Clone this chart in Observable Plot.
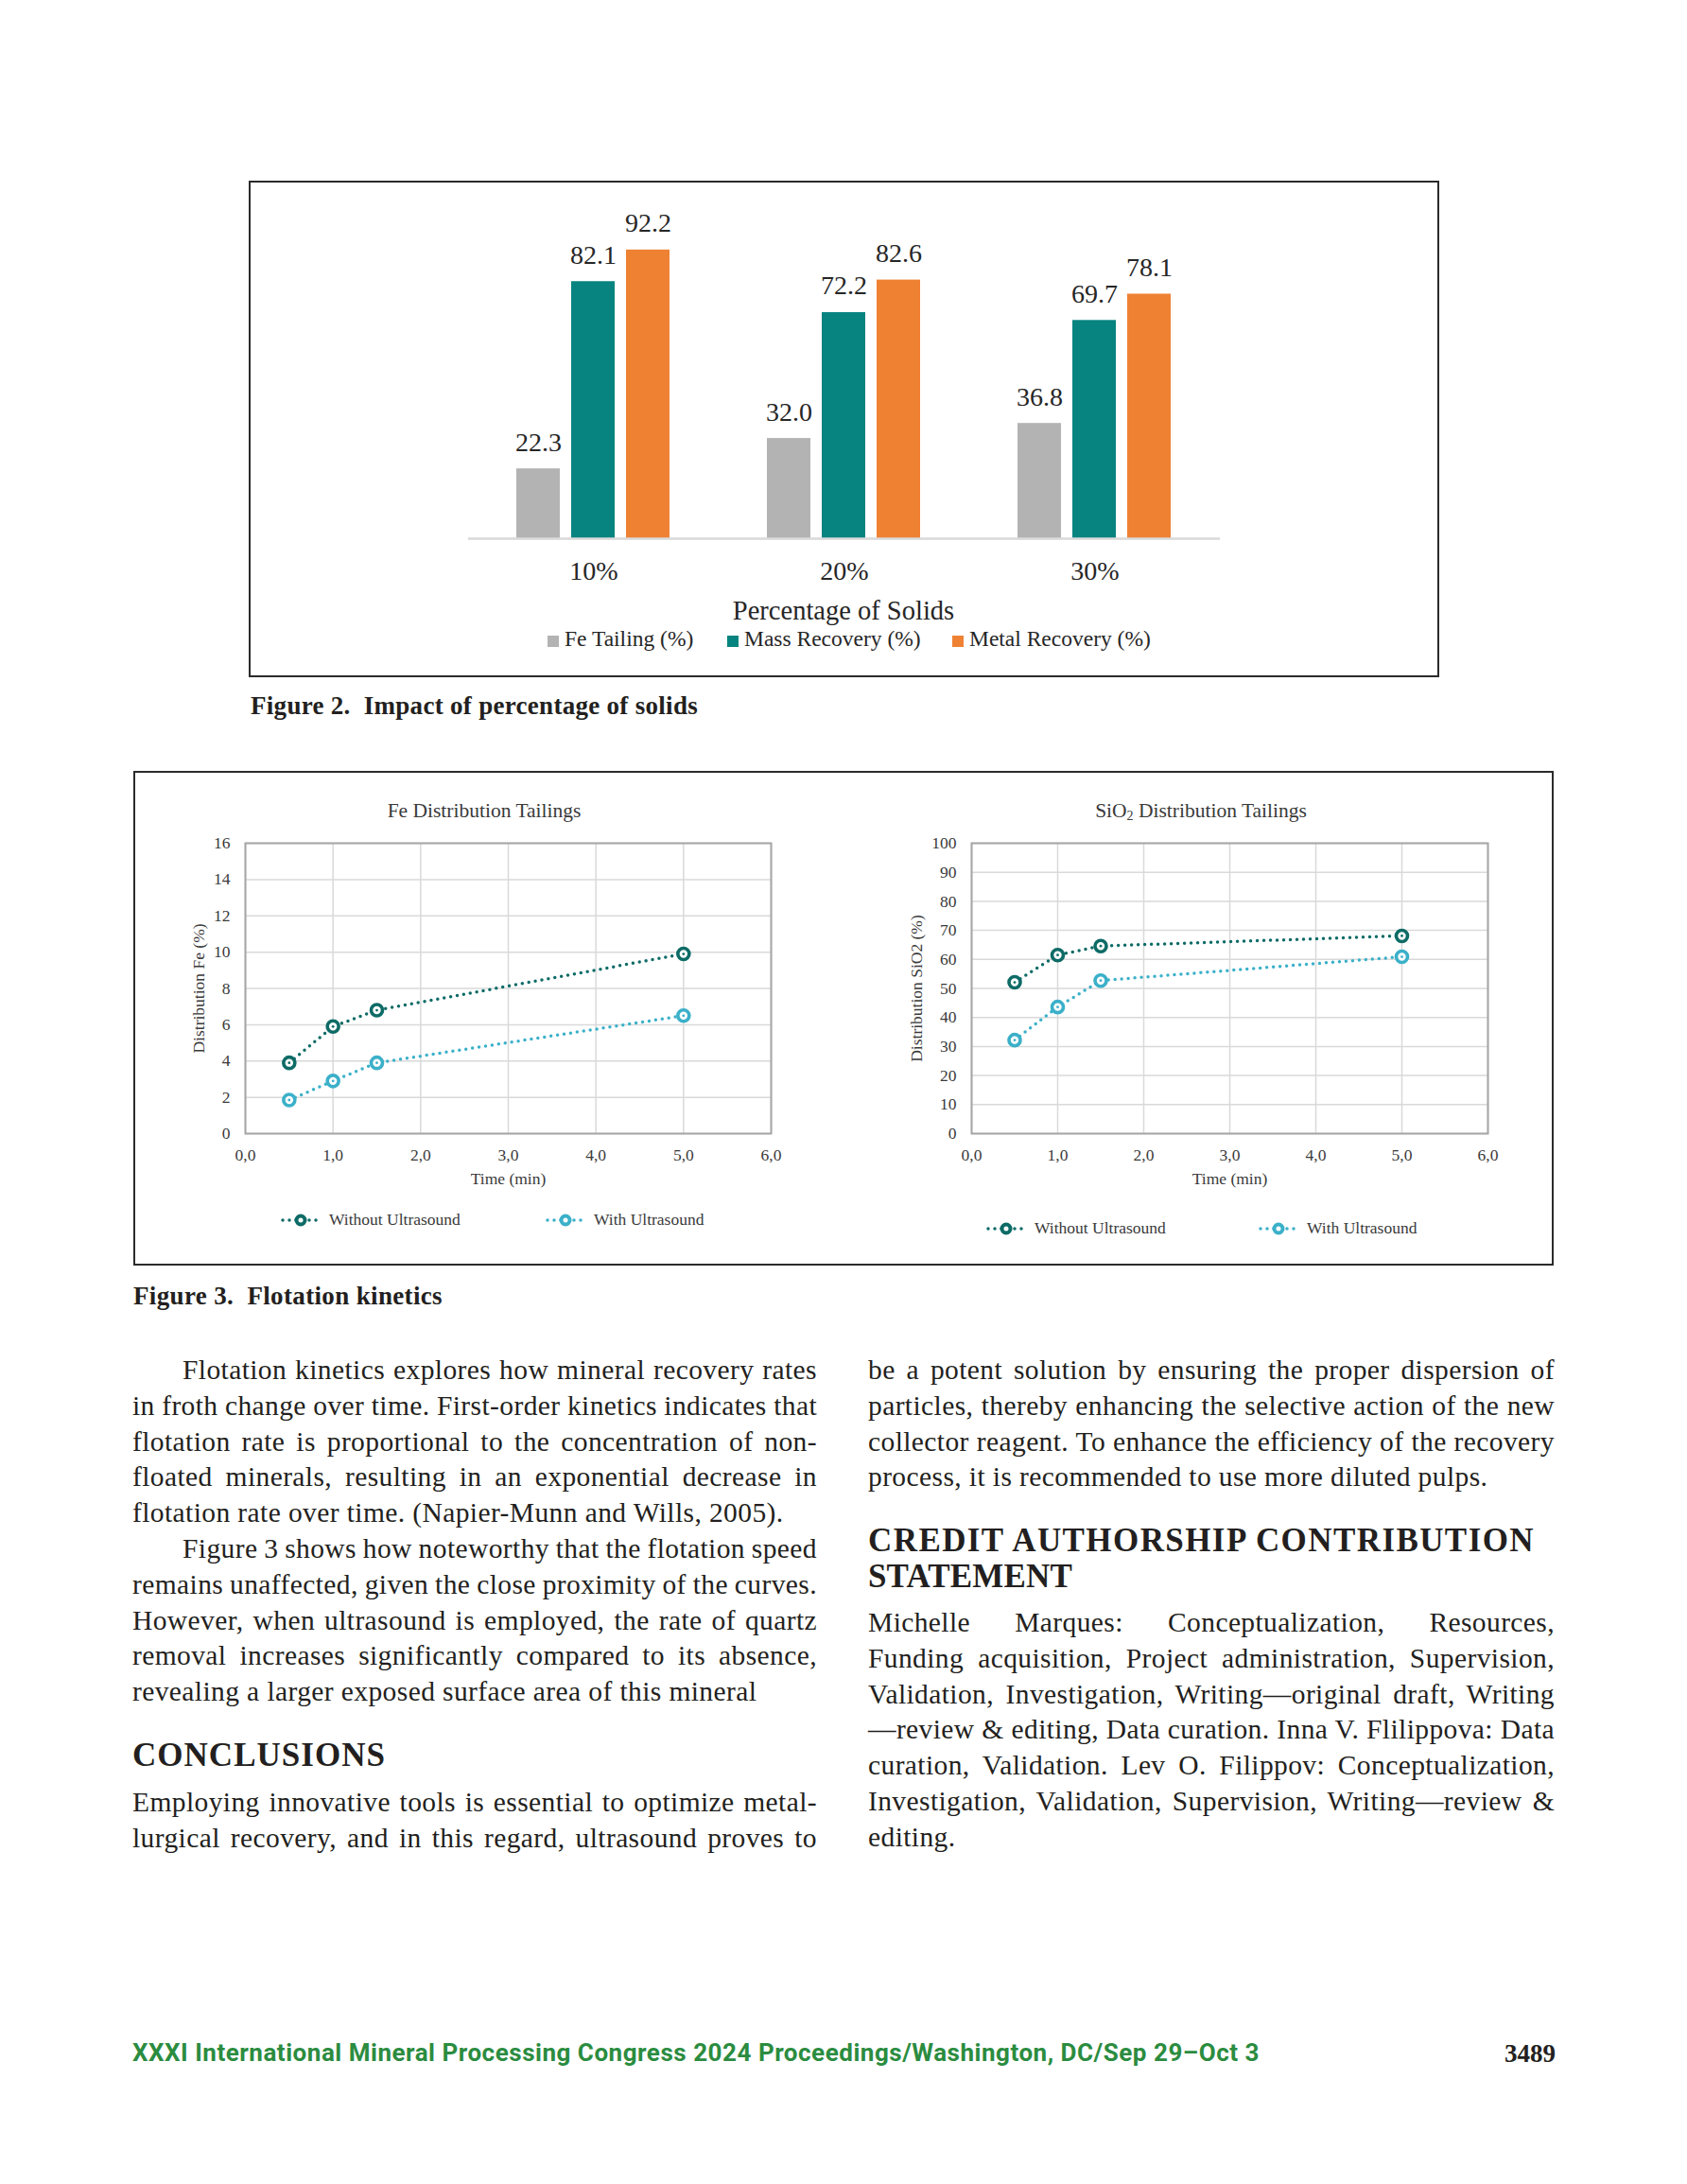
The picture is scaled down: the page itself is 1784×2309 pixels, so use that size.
<!DOCTYPE html>
<html><head><meta charset="utf-8">
<script src="https://cdn.jsdelivr.net/npm/d3@7"></script>
<script src="https://cdn.jsdelivr.net/npm/@observablehq/plot@0.6"></script>
<style>
html,body{margin:0;padding:0;background:#fff;}
#page{position:relative;width:1784px;height:2309px;overflow:hidden;font-family:"Liberation Serif",serif;color:#231f20;}
.abs{position:absolute;white-space:nowrap;display:inline-block;}
.box{position:absolute;border:2px solid #2b2b2b;box-sizing:border-box;}
</style></head><body><div id="page"></div>
<script>
// ---------- DATA ----------
const solidCats = ["10%", "20%", "30%"];
const solidSeries = ["Fe Tailing (%)", "Mass Recovery (%)", "Metal Recovery (%)"];
const feTailing = [22.3, 32.0, 36.8];
const massRecovery = [82.1, 72.2, 69.7];
const metalRecovery = [92.2, 82.6, 78.1];
const seriesColors = ["#b3b3b4", "#088480", "#ef8133"];

const timeMin = [0.5, 1.0, 1.5, 5.0];
const timeTicks = [0, 1, 2, 3, 4, 5, 6];
const lineSeries = ["Without Ultrasound", "With Ultrasound"];
const lineColors = ["#0d6b66", "#3bb0c9"];
const feWithout = [3.9, 5.9, 6.8, 9.9];
const feWith = [1.85, 2.9, 3.9, 6.5];
const feTicks = [0, 2, 4, 6, 8, 10, 12, 14, 16];
const sioWithout = [52.1, 61.5, 64.6, 68.1];
const sioWith = [32.2, 43.6, 52.7, 60.9];
const sioTicks = [0, 10, 20, 30, 40, 50, 60, 70, 80, 90, 100];

const page = document.getElementById("page");

function place(html, o) {
  const el = document.createElement("div");
  el.className = "abs";
  el.innerHTML = html;
  const size = o.size || 26;
  const lh = size * 1.15;
  el.style.fontSize = size + "px";
  el.style.lineHeight = lh + "px";
  el.style.fontFamily = o.family || '"Liberation Serif", serif';
  el.style.fontWeight = o.weight || 400;
  el.style.color = o.color || "#231f20";
  el.style.top = (o.y - lh / 2) + "px";
  if (o.letterSpacing) el.style.letterSpacing = o.letterSpacing + "px";
  page.appendChild(el);
  if (o.fitLetters) {
    const w = el.getBoundingClientRect().width;
    const n = el.textContent.length;
    el.style.letterSpacing = ((o.letterSpacing || 0) + (o.fitLetters - w) / n) + "px";
  }
  if (o.fitWords) {
    const w = el.getBoundingClientRect().width;
    const n = (el.textContent.match(/ /g) || []).length;
    if (n > 0) el.style.wordSpacing = ((o.fitWords - w) / n) + "px";
  }
  const w = el.getBoundingClientRect().width;
  let left = o.x;
  if (o.anchor === "middle") left = o.x - w / 2;
  if (o.anchor === "end") left = o.x - w;
  el.style.left = left + "px";
  return el;
}
function box(x0, y0, x1, y1) {
  const b = document.createElement("div");
  b.className = "box";
  Object.assign(b.style, {left: x0 + "px", top: y0 + "px", width: (x1 - x0) + "px", height: (y1 - y0) + "px"});
  page.appendChild(b);
}
function put(svg, left, top) {
  svg.style.position = "absolute";
  svg.style.left = left + "px";
  svg.style.top = top + "px";
  page.appendChild(svg);
}

// ---------- FIGURE 2 ----------
box(263, 191, 1522, 716);
const barData = solidCats.flatMap((c, i) => solidSeries.map((s, j) => ({
  cat: c, series: s, value: [feTailing, massRecovery, metalRecovery][j][i]
})));
const bar = Plot.plot({
  width: 1258, height: 437,
  marginLeft: 230, marginRight: 231, marginTop: 46, marginBottom: 60,
  fx: {domain: solidCats, padding: 0, label: null},
  x: {domain: solidSeries, axis: null, paddingInner: 0.2, paddingOuter: 0.86},
  y: {domain: [0, 100], axis: null},
  color: {domain: solidSeries, range: seriesColors},
  style: {fontFamily: '"Liberation Serif", serif', background: "transparent", color: "#262626"},
  marks: [
    Plot.barY(barData, {fx: "cat", x: "series", y: "value", fill: "series"}),
    Plot.ruleY([0], {stroke: "#d9d9d9", strokeWidth: 2.5}),
    Plot.text(barData, {fx: "cat", x: "series", y: "value", text: d => d.value.toFixed(1), dy: -28, fontSize: 28, fill: "#262626"}),
    Plot.axisFx({anchor: "bottom", tickSize: 0, tickPadding: 24, fontSize: 28, label: null, fill: "#262626"})
  ]
});
put(bar, 264, 192);
place("Percentage of Solids", {x: 892, y: 646, size: 28.5, anchor: "middle", color: "#262626"});
const legX = [585, 775, 1013];
solidSeries.forEach((s, i) => {
  place(`<span style="display:inline-block;width:12px;height:12px;background:${seriesColors[i]};vertical-align:-1px"></span>`,
    {x: legX[i] - 6, y: 676, size: 23});
  place(s, {x: legX[i] + 12, y: 676, size: 23.5, color: "#262626"});
});
place("Figure 2.&nbsp; Impact of percentage of solids", {x: 265, y: 747, size: 27, weight: 700, fitLetters: 473});

// ---------- FIGURE 3 ----------
box(141, 815, 1643, 1338);
function lineChart({without, withU, ticks, yLabel, marginLeft, marginRight, yLabelOffset}) {
  const data = [
    ...timeMin.map((t, i) => ({t, v: without[i], s: lineSeries[0]})),
    ...timeMin.map((t, i) => ({t, v: withU[i], s: lineSeries[1]}))
  ];
  const yMax = ticks[ticks.length - 1];
  return Plot.plot({
    width: 700, height: 400, marginLeft, marginRight, marginTop: 21, marginBottom: 72,
    x: {domain: [0, 6]},
    y: {domain: [0, yMax]},
    color: {domain: lineSeries, range: lineColors},
    style: {fontFamily: '"Liberation Serif", serif', fontSize: "17px", background: "transparent", color: "#3a3a3a"},
    marks: [
      Plot.gridX(timeTicks, {stroke: "#d9d9d9", strokeOpacity: 1, strokeWidth: 1.5}),
      Plot.gridY(ticks, {stroke: "#d9d9d9", strokeOpacity: 1, strokeWidth: 1.5}),
      Plot.frame({stroke: "#a6a6a6", strokeWidth: 2}),
      Plot.axisX(timeTicks, {tickSize: 0, tickPadding: 16, fontSize: 17.5,
        tickFormat: d => d.toFixed(1).replace(".", ","),
        label: "Time (min)", labelAnchor: "center", labelOffset: 53, labelArrow: "none"}),
      Plot.axisY(ticks, {tickSize: 0, tickPadding: 16, fontSize: 17.5,
        label: yLabel, labelAnchor: "center", labelOffset: yLabelOffset, labelArrow: "none"}),
      Plot.line(data, {x: "t", y: "v", z: "s", stroke: "s", strokeWidth: 3.5, strokeDasharray: "0 7", strokeLinecap: "round"}),
      Plot.dot(data, {x: "t", y: "v", r: 6, stroke: "s", strokeWidth: 3.6, fill: "white"}),
      Plot.dot(data, {x: "t", y: "v", r: 1.4, fill: "s"})
    ]
  });
}
put(lineChart({without: feWithout, withU: feWith, ticks: feTicks, yLabel: "Distribution Fe (%)",
  marginLeft: 109, marginRight: 35, yLabelOffset: 56}), 150, 870);
put(lineChart({without: sioWithout, withU: sioWith, ticks: sioTicks, yLabel: "Distribution SiO2 (%)",
  marginLeft: 107, marginRight: 47, yLabelOffset: 65}), 920, 870);

place("Fe Distribution Tailings", {x: 512, y: 857, size: 21.5, anchor: "middle", color: "#3a3a3a"});
place('SiO<sub style="font-size:14px;vertical-align:-3px;line-height:0">2</sub> Distribution Tailings', {x: 1270, y: 857, size: 21.5, anchor: "middle", color: "#3a3a3a"});

function lineLegend(cx, y, color, label) {
  const sw = `<svg width="44" height="18" style="vertical-align:middle"><line x1="3" y1="9" x2="41" y2="9" stroke="${color}" stroke-width="3.5" stroke-dasharray="0 7" stroke-linecap="round"/><circle cx="22" cy="9" r="4.5" fill="white" stroke="${color}" stroke-width="4"/></svg>`;
  place(sw, {x: cx - 22, y, size: 17});
  place(label, {x: cx + 30, y, size: 17.5, color: "#3a3a3a"});
}
lineLegend(318, 1289, lineColors[0], lineSeries[0]);
lineLegend(598, 1289, lineColors[1], lineSeries[1]);
lineLegend(1064, 1298, lineColors[0], lineSeries[0]);
lineLegend(1352, 1298, lineColors[1], lineSeries[1]);

place("Figure 3.&nbsp; Flotation kinetics", {x: 141, y: 1371, size: 27, weight: 700, fitLetters: 327});

// ---------- BODY TEXT ----------
const LH = 37.8;
const BODY = 29.5, BODY_LS = 0.4;
const leftLines = [
  ["Flotation kinetics explores how mineral recovery rates", 1, 1],
  ["in froth change over time. First-order kinetics indicates that", 0, 1],
  ["flotation rate is proportional to the concentration of non-", 0, 1],
  ["floated minerals, resulting in an exponential decrease in", 0, 1],
  ["flotation rate over time. (Napier-Munn and Wills, 2005).", 0, 0],
  ["Figure 3 shows how noteworthy that the flotation speed", 1, 1],
  ["remains unaffected, given the close proximity of the curves.", 0, 1],
  ["However, when ultrasound is employed, the rate of quartz", 0, 1],
  ["removal increases significantly compared to its absence,", 0, 1],
  ["revealing a larger exposed surface area of this mineral", 0, 0]
];
const conclLines = [
  ["Employing innovative tools is essential to optimize metal-", 0, 1],
  ["lurgical recovery, and in this regard, ultrasound proves to", 0, 1]
];
const rightTop = [
  ["be a potent solution by ensuring the proper dispersion of", 0, 1],
  ["particles, thereby enhancing the selective action of the new", 0, 1],
  ["collector reagent. To enhance the efficiency of the recovery", 0, 1],
  ["process, it is recommended to use more diluted pulps.", 0, 0]
];
const creditLines = [
  ["Michelle Marques: Conceptualization, Resources,", 0, 1],
  ["Funding acquisition, Project administration, Supervision,", 0, 1],
  ["Validation, Investigation, Writing—original draft, Writing", 0, 1],
  ["—review &amp; editing, Data curation. Inna V. Flilippova: Data", 0, 1],
  ["curation, Validation. Lev O. Filippov: Conceptualization,", 0, 1],
  ["Investigation, Validation, Supervision, Writing—review &amp;", 0, 1],
  ["editing.", 0, 0]
];
function para(lines, x0, x1, y0) {
  lines.forEach(([t, ind, just], i) => {
    const x = x0 + (ind ? 53 : 0);
    const o = {x, y: y0 + i * LH, size: BODY, letterSpacing: BODY_LS};
    if (just) o.fitWords = x1 - x;
    place(t, o);
  });
}
para(leftLines, 140, 864, 1449);
place("CONCLUSIONS", {x: 140, y: 1856, size: 35, weight: 700, fitLetters: 268});
para(conclLines, 140, 864, 1906);
para(rightTop, 918, 1644, 1449);
place("CREDIT AUTHORSHIP CONTRIBUTION", {x: 918, y: 1629, size: 35, weight: 700, fitLetters: 705});
place("STATEMENT", {x: 918, y: 1667, size: 35, weight: 700, fitLetters: 216});
para(creditLines, 918, 1644, 1716);

// ---------- FOOTER ----------
place("XXXI International Mineral Processing Congress 2024 Proceedings/Washington, DC/Sep 29–Oct 3",
  {x: 140, y: 2171, size: 26, weight: 700, family: '"Liberation Sans Narrow", Roboto, sans-serif', color: "#2b8c3f", fitLetters: 1192});
place("3489", {x: 1645, y: 2172, size: 27, weight: 700, anchor: "end"});
</script></body></html>
